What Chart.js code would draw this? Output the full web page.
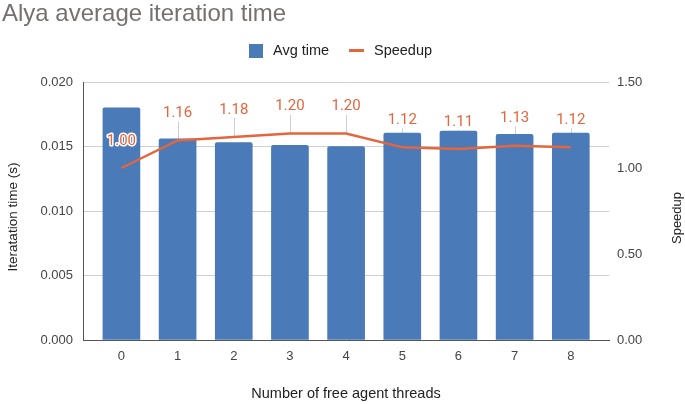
<!DOCTYPE html>
<html><head><meta charset="utf-8">
<script src="https://cdn.jsdelivr.net/npm/chart.js@4"></script>
<style>html,body{margin:0;padding:0;background:#fff}#w{width:685px;height:404px}</style>
</head><body><div id="w"><canvas id="c"></canvas></div>
<script>
const categories = [0, 1, 2, 3, 4, 5, 6, 7, 8];
const avgTime = [0.0180, 0.0156, 0.0153, 0.0151, 0.0150, 0.01605, 0.0162, 0.01595, 0.01605];
const speedup = [1.00, 1.16, 1.18, 1.20, 1.20, 1.12, 1.11, 1.13, 1.12];
const speedupLabels = ["1.00", "1.16", "1.18", "1.20", "1.20", "1.12", "1.11", "1.13", "1.12"];
const leftTicks = [0, 0.005, 0.010, 0.015, 0.020];
const rightTicks = [0, 0.5, 1.0, 1.5];

const BLUE = '#4a7ab7', ORANGE = '#e5653c', TXT = '#444444';
const FONT = '"Liberation Sans", Arial, sans-serif';

const deco = {
  id: 'deco',
  beforeDatasetsDraw(chart) {
    const ctx = chart.ctx, meta = chart.getDatasetMeta(1);
    ctx.save(); ctx.strokeStyle = '#cfcfcf'; ctx.lineWidth = 1;
    meta.data.forEach(p => {
      const x = Math.round(p.x) + 0.5;
      ctx.beginPath(); ctx.moveTo(x, p.y - 19); ctx.lineTo(x, p.y); ctx.stroke();
    });
    ctx.restore();
  },
  afterDatasetsDraw(chart) {
    const ctx = chart.ctx, meta = chart.getDatasetMeta(1);
    ctx.save();
    ctx.font = '15px Roboto, sans-serif';
    ctx.textAlign = 'center'; ctx.textBaseline = 'middle';
    ctx.lineJoin = 'round';
    meta.data.forEach((p, i) => {
      const y = p.y - 27;
      ctx.strokeStyle = '#ffffff'; ctx.lineWidth = 3;
      ctx.strokeText(speedupLabels[i], p.x, y);
      ctx.fillStyle = ORANGE;
      ctx.fillText(speedupLabels[i], p.x, y);
    });
    ctx.restore();
  },
  afterDraw(chart) {
    const ctx = chart.ctx;
    ctx.save();
    ctx.font = '24px ' + FONT; ctx.fillStyle = '#777070';
    ctx.textAlign = 'left'; ctx.textBaseline = 'middle';
    ctx.fillText('Alya average iteration time', 2, 14);
    ctx.fillStyle = BLUE; ctx.fillRect(249, 44, 14, 14);
    ctx.font = '14.5px ' + FONT; ctx.fillStyle = '#222222';
    ctx.fillText('Avg time', 273, 51);
    ctx.strokeStyle = ORANGE; ctx.lineWidth = 3;
    ctx.beginPath(); ctx.moveTo(349, 50.5); ctx.lineTo(364, 50.5); ctx.stroke();
    ctx.fillText('Speedup', 374, 51);
    ctx.fillStyle = '#222222'; ctx.textAlign = 'center';
    ctx.fillText('Number of free agent threads', 346, 394);
    ctx.font = '13.5px ' + FONT;
    ctx.save(); ctx.translate(13, 217); ctx.rotate(-Math.PI / 2);
    ctx.fillText('Iteratation time (s)', 0, 0); ctx.restore();
    ctx.font = '13px ' + FONT;
    ctx.save(); ctx.translate(677, 218); ctx.rotate(-Math.PI / 2);
    ctx.fillText('Speedup', 0, 0); ctx.restore();
    ctx.restore();
  }
};

new Chart(document.getElementById('c'), {
  data: {
    datasets: [
      { type: 'bar', label: 'Avg time', data: categories.map((c, i) => ({x: c, y: avgTime[i]})),
        backgroundColor: BLUE, barThickness: 37, borderRadius: 2, borderSkipped: 'bottom', yAxisID: 'y', order: 2 },
      { type: 'line', label: 'Speedup', data: categories.map((c, i) => ({x: c, y: speedup[i]})),
        borderColor: ORANGE, borderWidth: 2.5, pointRadius: 0, tension: 0, yAxisID: 'y1', order: 1 }
    ]
  },
  options: {
    responsive: true, maintainAspectRatio: false, animation: false,
    layout: { padding: { top: 82, left: 0, right: 0, bottom: 0 } },
    plugins: { legend: { display: false }, tooltip: { enabled: false } },
    scales: {
      x: { type: 'linear', min: -0.684, max: 8.68, offset: false,
        afterBuildTicks: s => { s.ticks = categories.map(v => ({value: v})); },
        afterFit: s => { s.height = 64; },
        grid: { display: false, drawTicks: false },
        border: { color: '#555555', width: 1 },
        ticks: { color: TXT, font: { family: FONT, size: 13 }, padding: 9, callback: v => String(v) } },
      y: { position: 'left', min: 0, max: 0.02,
        afterBuildTicks: s => { s.ticks = leftTicks.map(v => ({value: v})); },
        afterFit: s => { s.width = 83; },
        grid: { color: '#d0d0d0', drawTicks: false },
        border: { color: '#555555', width: 1 },
        ticks: { color: TXT, font: { family: FONT, size: 13 }, padding: 10, callback: v => v.toFixed(3) } },
      y1: { position: 'right', min: 0, max: 1.5,
        afterBuildTicks: s => { s.ticks = rightTicks.map(v => ({value: v})); },
        afterFit: s => { s.width = 76; },
        grid: { display: false, drawTicks: false },
        border: { display: false },
        ticks: { color: TXT, font: { family: FONT, size: 13 }, padding: 8, callback: v => v.toFixed(2) } }
    }
  },
  plugins: [deco]
});
</script></body></html>
